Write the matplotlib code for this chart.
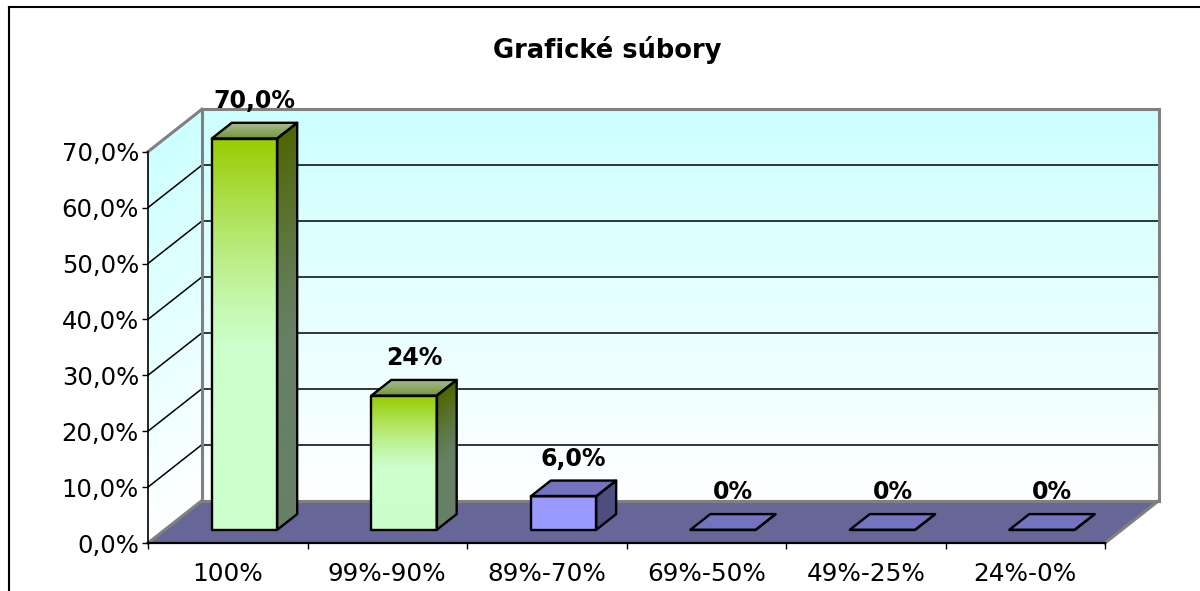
import matplotlib
matplotlib.use("Agg")
import matplotlib.pyplot as plt
from matplotlib.patches import Polygon
from matplotlib.collections import PolyCollection
from matplotlib.lines import Line2D
import numpy as np

# ---------------- data ----------------
categories = ["100%", "99%-90%", "89%-70%", "69%-50%", "49%-25%", "24%-0%"]
values = [70.0, 24.0, 6.0, 0.0, 0.0, 0.0]
value_labels = ["70,0%", "24%", "6,0%", "0%", "0%", "0%"]
bar_styles = ["green", "green", "purple", "purple", "purple", "purple"]
yticks = [0, 10, 20, 30, 40, 50, 60, 70]
ytick_labels = ["0,0%", "10,0%", "20,0%", "30,0%", "40,0%", "50,0%", "60,0%", "70,0%"]
title = "Grafické súbory"

plt.rcParams['font.family'] = ['DejaVu Sans']

W, H = 1200, 591
fig = plt.figure(figsize=(W / 100, H / 100), dpi=100)
ax = fig.add_axes([148 / W, 48 / H, 957 / W, 391.3 / H])
ncat = len(categories)
ymax = 70
ax.set_xlim(0, ncat)
ax.set_ylim(0, ymax)
ax.patch.set_visible(False)

# 3D depth offset (in data units)
px_per_x = 957 / ncat
px_per_y = 391.3 / ymax
Dx = 54 / px_per_x
Dy = 42.5 / px_per_y


def lerp(c0, c1, t):
    c0 = np.array(c0) / 255.0
    c1 = np.array(c1) / 255.0
    return tuple(c0 + (c1 - c0) * t)


def add_polys(polys, colors, z):
    pc = PolyCollection(polys, facecolors=colors, edgecolors=colors,
                        linewidths=0.6, clip_on=False, zorder=z)
    ax.add_collection(pc)


N = 120
# ---------------- walls ----------------
hs = np.linspace(0, ymax, N + 1)
back, left, cols = [], [], []
for i in range(N):
    h0, h1 = hs[i], hs[i + 1]
    t = (h0 + h1) / 2 / ymax
    cols.append(lerp((255, 255, 255), (204, 255, 255), t))
    back.append([(Dx, h0 + Dy), (ncat + Dx, h0 + Dy), (ncat + Dx, h1 + Dy), (Dx, h1 + Dy)])
    left.append([(0, h0), (Dx, h0 + Dy), (Dx, h1 + Dy), (0, h1)])
add_polys(back, cols, 1)
add_polys(left, cols, 1)

# floor
ax.add_patch(Polygon([(0, 0), (ncat, 0), (ncat + Dx, Dy), (Dx, Dy)], closed=True,
                     facecolor="#666699", edgecolor="none", clip_on=False, zorder=1.2))

# gridlines
for g in yticks[1:-1]:
    ax.add_line(Line2D([Dx, ncat + Dx], [g + Dy, g + Dy], color="black", lw=1.1, clip_on=False, zorder=1.3))
    ax.add_line(Line2D([0, Dx], [g, g + Dy], color="black", lw=1.1, clip_on=False, zorder=1.3))

gray = "#808080"
edges = [
    ([Dx, ncat + Dx], [Dy, Dy]),
    ([0, Dx], [0, Dy]),
    ([ncat, ncat + Dx], [0, Dy]),
    ([Dx, Dx], [Dy, ymax + Dy]),
    ([Dx, ncat + Dx], [ymax + Dy, ymax + Dy]),
    ([ncat + Dx, ncat + Dx], [Dy, ymax + Dy]),
    ([0, Dx], [ymax, ymax + Dy]),
]
for xs, ys in edges:
    ax.add_line(Line2D(xs, ys, color=gray, lw=2.2, clip_on=False, zorder=1.4, solid_capstyle="projecting"))

# ---------------- bars ----------------
f0, f1 = 0.31, 0.68
half_w = 0.205
green_top, green_bot = (153, 204, 0), (204, 255, 204)

for i, (v, style, lab) in enumerate(zip(values, bar_styles, value_labels)):
    xc = i + 0.5
    x0 = xc - half_w + f0 * Dx
    x1 = xc + half_w + f0 * Dx
    y0 = f0 * Dy
    ddx = (f1 - f0) * Dx
    ddy = (f1 - f0) * Dy
    z = 3 + i * 0.1
    if style == "green":
        hh = np.linspace(0, v, N + 1)
        front, side, fcols, scols = [], [], [], []
        for k in range(N):
            a, b = hh[k], hh[k + 1]
            t = 1 - ((a + b) / 2) / v  # 0 at top, 1 at bottom
            tt = min(t / 0.55, 1.0)
            tt = 1 - (1 - tt) ** 1.3
            c = np.array(lerp(green_top, green_bot, tt))
            fcols.append(tuple(c))
            scols.append(tuple(c * 0.5))
            front.append([(x0, y0 + a), (x1, y0 + a), (x1, y0 + b), (x0, y0 + b)])
            side.append([(x1, y0 + a), (x1 + ddx, y0 + a + ddy), (x1 + ddx, y0 + b + ddy), (x1, y0 + b)])
        add_polys(front, fcols, z)
        add_polys(side, scols, z)
        # top face gradient: front edge darker green, back edge lighter grey-green
        M = 40
        tops, tcols = [], []
        for k in range(M):
            s0, s1 = k / M, (k + 1) / M
            tcols.append(lerp((115, 150, 55), (165, 185, 145), (s0 + s1) / 2))
            tops.append([(x0 + s0 * ddx, y0 + v + s0 * ddy), (x1 + s0 * ddx, y0 + v + s0 * ddy),
                         (x1 + s1 * ddx, y0 + v + s1 * ddy), (x0 + s1 * ddx, y0 + v + s1 * ddy)])
        add_polys(tops, tcols, z)
    else:
        ax.add_patch(Polygon([(x0, y0), (x1, y0), (x1, y0 + v), (x0, y0 + v)], closed=True,
                             facecolor="#9999ff", edgecolor="none", clip_on=False, zorder=z))
        ax.add_patch(Polygon([(x1, y0), (x1 + ddx, y0 + ddy), (x1 + ddx, y0 + v + ddy), (x1, y0 + v)],
                             closed=True, facecolor="#4d4d80", edgecolor="none", clip_on=False, zorder=z))
        ax.add_patch(Polygon([(x0, y0 + v), (x1, y0 + v), (x1 + ddx, y0 + v + ddy), (x0 + ddx, y0 + v + ddy)],
                             closed=True, facecolor="#7373bf", edgecolor="none", clip_on=False, zorder=z))
    # outlines
    outline_kw = dict(closed=True, fill=False, edgecolor="black", lw=1.7, clip_on=False,
                      zorder=z + 0.05, joinstyle="round")
    ax.add_patch(Polygon([(x0, y0), (x1, y0), (x1, y0 + v), (x0, y0 + v)], **outline_kw))
    ax.add_patch(Polygon([(x1, y0), (x1 + ddx, y0 + ddy), (x1 + ddx, y0 + v + ddy), (x1, y0 + v)], **outline_kw))
    ax.add_patch(Polygon([(x0, y0 + v), (x1, y0 + v), (x1 + ddx, y0 + v + ddy), (x0 + ddx, y0 + v + ddy)], **outline_kw))
    # value label
    fm = (f0 + f1) / 2
    ax.annotate(lab, xy=(xc + fm * Dx, v + f1 * Dy), xytext=(0, 22), textcoords="offset pixels",
                ha="center", va="center", fontsize=17, fontweight="bold", color="black",
                annotation_clip=False, zorder=10)

# ---------------- axes ----------------
for s in ["top", "right"]:
    ax.spines[s].set_visible(False)
ax.spines["left"].set_color("black")
ax.spines["left"].set_linewidth(1.2)
ax.spines["bottom"].set_color("black")
ax.spines["bottom"].set_linewidth(1.6)
ax.spines["left"].set_zorder(2)
ax.spines["bottom"].set_zorder(2)

ax.set_yticks(yticks)
ax.set_yticklabels(ytick_labels)
ax.tick_params(axis="y", direction="out", length=4.3, width=1.0, pad=2.2, labelsize=17.5)

ax.set_xticks(np.arange(0, ncat + 1))
ax.set_xticklabels([])
ax.set_xticks(np.arange(ncat) + 0.5, minor=True)
ax.set_xticklabels(categories, minor=True)
ax.tick_params(axis="x", which="major", direction="out", length=4.0, width=1.0)
ax.tick_params(axis="x", which="minor", length=0, pad=13.5, labelsize=17.8)

# title
fig.text(607 / W, 1 - 50 / H, title, ha="center", va="center", fontsize=18.5, fontweight="bold")

# chart area border (top and left visible)
fig.add_artist(Line2D([8.5 / W, 8.5 / W], [0, 1 - 6.5 / H], color="black", lw=1.5, transform=fig.transFigure))
fig.add_artist(Line2D([8.5 / W, 1], [1 - 6.5 / H, 1 - 6.5 / H], color="black", lw=1.5, transform=fig.transFigure))

fig.savefig("out.png", dpi=100)
